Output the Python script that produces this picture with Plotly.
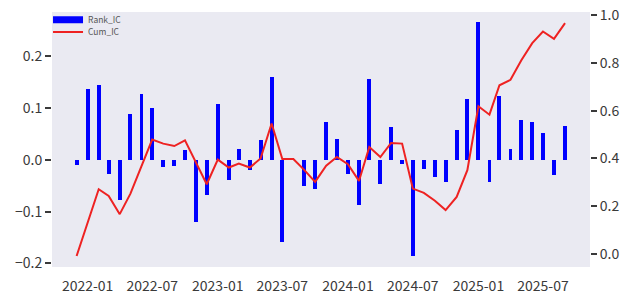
import plotly.graph_objects as go
import pandas as pd

# Monthly dates (Dec 2021 .. Sep 2025)
dates = pd.date_range("2021-12-01", "2025-09-01", freq="MS")

rank_ic = [
    -0.010, 0.138, 0.145, -0.027, -0.078, 0.088, 0.127, 0.101, -0.013, -0.011,
    0.019, -0.120, -0.068, 0.109, -0.038, 0.022, -0.020, 0.038, 0.160, -0.159,
    0.000, -0.050, -0.057, 0.073, 0.041, -0.028, -0.088, 0.156, -0.046, 0.064,
    -0.007, -0.185, -0.017, -0.033, -0.043, 0.058, 0.118, 0.266, -0.042, 0.124,
    0.021, 0.077, 0.073, 0.053, -0.030, 0.065,
]

cum_ic = [
    -0.008, 0.130, 0.271, 0.243, 0.167, 0.253, 0.365, 0.479, 0.462, 0.452,
    0.476, 0.385, 0.292, 0.395, 0.362, 0.379, 0.362, 0.400, 0.546, 0.398,
    0.398, 0.351, 0.302, 0.370, 0.406, 0.376, 0.306, 0.448, 0.406, 0.465,
    0.462, 0.274, 0.256, 0.223, 0.184, 0.239, 0.351, 0.618, 0.583, 0.706,
    0.729, 0.810, 0.882, 0.931, 0.900, 0.966,
]

left_ticks = [-0.2, -0.1, 0.0, 0.1, 0.2]
right_ticks = [0.0, 0.2, 0.4, 0.6, 0.8, 1.0]

FONT = "Noto Sans CJK SC"
TXT = "#3a3a3a"
BLUE = "#0000ff"
RED = "#ee2222"

fig = go.Figure()
fig.add_trace(go.Bar(
    x=dates, y=rank_ic, name="Rank_IC",
    marker=dict(color=BLUE, line=dict(width=0)),
    width=11 * 24 * 3600 * 1000,
    yaxis="y", showlegend=False,
))
# legend handle for the bars (wide patch, as in the reference)
fig.add_trace(go.Scatter(
    x=[None], y=[None], name="Rank_IC", mode="lines",
    line=dict(color=BLUE, width=7),
    legend="legend", showlegend=True,
))
fig.add_trace(go.Scatter(
    x=dates, y=cum_ic, name="Cum_IC", mode="lines",
    line=dict(color=RED, width=2),
    yaxis="y2", legend="legend2", showlegend=True,
))

leg_common = dict(
    xref="container", yref="container",
    xanchor="left", yanchor="middle",
    bgcolor="rgba(0,0,0,0)",
    font=dict(size=8.5, color="#555555", family=FONT),
    tracegroupgap=0, itemwidth=30,
)

fig.update_layout(
    width=636, height=300,
    margin=dict(l=52, r=46, t=12, b=33, autoexpand=False),
    paper_bgcolor="white",
    plot_bgcolor="#eaeaf2",
    font=dict(family=FONT, size=14, color=TXT),
    bargap=0,
    legend=dict(x=0.0755, y=0.934, **leg_common),
    legend2=dict(x=0.0755, y=0.893, **leg_common),
    xaxis=dict(
        type="date",
        range=["2021-09-23", "2025-11-10"],
        tick0="2022-01-01", dtick="M6", tickformat="%Y-%m",
        showgrid=False, zeroline=False, showline=False,
        ticks="", ticklabelstandoff=9, automargin=False,
    ),
    yaxis=dict(
        range=[-0.207, 0.286],
        tickvals=left_ticks, tickformat=".1f",
        showgrid=False, zeroline=False, showline=False,
        ticks="outside", ticklen=6, tickwidth=1.5, tickcolor=TXT,
        automargin=False,
    ),
    yaxis2=dict(
        range=[-0.054, 1.0125],
        overlaying="y", side="right",
        tickvals=right_ticks, tickformat=".1f",
        showgrid=False, zeroline=False, showline=False,
        ticks="outside", ticklen=6, tickwidth=1.5, tickcolor=TXT,
        automargin=False,
    ),
)

fig.write_html("out.html")
